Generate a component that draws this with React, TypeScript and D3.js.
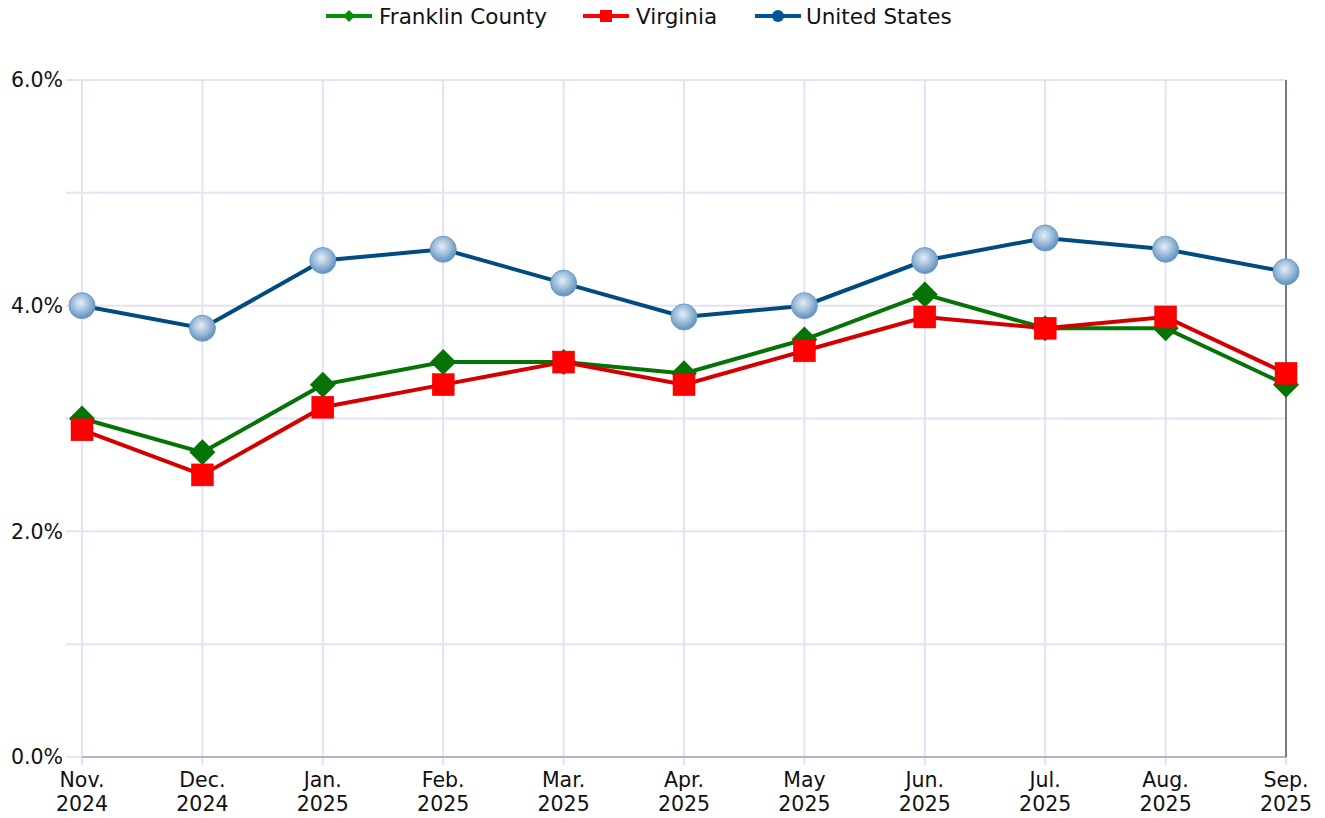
import React from "react";
import * as d3 from "d3";

const months = ["Nov.", "Dec.", "Jan.", "Feb.", "Mar.", "Apr.", "May", "Jun.", "Jul.", "Aug.", "Sep."];
const years = ["2024", "2024", "2025", "2025", "2025", "2025", "2025", "2025", "2025", "2025", "2025"];
const franklin = [3.0, 2.7, 3.3, 3.5, 3.5, 3.4, 3.7, 4.1, 3.8, 3.8, 3.3];
const virginia = [2.9, 2.5, 3.1, 3.3, 3.5, 3.3, 3.6, 3.9, 3.8, 3.9, 3.4];
const unitedStates = [4.0, 3.8, 4.4, 4.5, 4.2, 3.9, 4.0, 4.4, 4.6, 4.5, 4.3];
const yTicks = [0, 1, 2, 3, 4, 5, 6];
const yLabeled = [0, 2, 4, 6];

const W = 1325, H = 818;
const left = 82, right = 1286, top = 80, bottom = 757;
const font = "'DejaVu Sans', Verdana, sans-serif";

export default function App() {
  const x = d3.scalePoint<number>().domain(d3.range(months.length)).range([left, right]);
  const y = d3.scaleLinear().domain([0, 6]).range([bottom, top]);
  const line = d3.line<number>().x((_, i) => x(i)!).y((d) => y(d));

  const diamond = (cx: number, cy: number, r: number) =>
    `M${cx},${cy - r}L${cx + r},${cy}L${cx},${cy + r}L${cx - r},${cy}Z`;

  return (
    <svg width={W} height={H} style={{ position: "absolute", left: 0, top: 0, background: "#fff" }}>
      <defs>
        <radialGradient id="usg" cx="45%" cy="40%" r="60%">
          <stop offset="0%" stopColor="#e4eef8" />
          <stop offset="50%" stopColor="#a2c0dc" />
          <stop offset="100%" stopColor="#5f8fbd" />
        </radialGradient>
      </defs>
      {/* grid */}
      {yTicks.map((t) => (
        <line key={"h" + t} x1={66} x2={right} y1={y(t)} y2={y(t)} stroke="#e3e3f3" strokeWidth={2} />
      ))}
      {months.map((_, i) => (
        <line key={"v" + i} x1={x(i)} x2={x(i)} y1={top} y2={bottom + 8} stroke="#e3e3f3" strokeWidth={2} />
      ))}
      <line x1={left} x2={right} y1={bottom} y2={bottom} stroke="#b4b4c4" strokeWidth={2} />
      <line x1={right} x2={right} y1={top} y2={bottom} stroke="#555566" strokeWidth={1.5} />
      {/* y labels */}
      {yLabeled.map((t) => (
        <text key={"yl" + t} x={63} y={y(t)} dy="0.36em" textAnchor="end" fontFamily={font} fontSize={20.5} fill="#111">
          {t.toFixed(1)}%
        </text>
      ))}
      {/* x labels */}
      {months.map((m, i) => (
        <text key={"xl" + i} x={x(i)} textAnchor="middle" fontFamily={font} fontSize={20.5} fill="#111">
          <tspan x={x(i)} y={787}>{m}</tspan>
          <tspan x={x(i)} y={811}>{years[i]}</tspan>
        </text>
      ))}
      {/* US */}
      <path d={line(unitedStates)!} fill="none" stroke="#004b80" strokeWidth={4} />
      {unitedStates.map((v, i) => (
        <circle key={"us" + i} cx={x(i)} cy={y(v)} r={13} fill="url(#usg)" stroke="#6f9cc6" strokeWidth={1} />
      ))}
      {/* Franklin */}
      <path d={line(franklin)!} fill="none" stroke="#067306" strokeWidth={4} />
      {franklin.map((v, i) => (
        <path key={"fr" + i} d={diamond(x(i)!, y(v), 13)} fill="#067306" />
      ))}
      {/* Virginia */}
      <path d={line(virginia)!} fill="none" stroke="#d40000" strokeWidth={4} />
      {virginia.map((v, i) => (
        <rect key={"va" + i} x={x(i)! - 11} y={y(v) - 11} width={22} height={22} fill="#ff0000" stroke="#e80000" strokeWidth={0.5} />
      ))}
      {/* legend */}
      <g fontFamily={font} fontSize={21.5} fill="#111">
        <line x1={326} x2={372} y1={16} y2={16} stroke="#068f06" strokeWidth={4} />
        <path d={diamond(349, 16, 6)} fill="#068f06" />
        <text x={379} y={16} dy="0.36em">Franklin County</text>
        <line x1={583} x2={629} y1={16} y2={16} stroke="#ff0000" strokeWidth={4} />
        <rect x={600} y={10} width={12} height={12} fill="#ff0000" />
        <text x={636} y={16} dy="0.36em">Virginia</text>
        <line x1={755} x2={801} y1={16} y2={16} stroke="#00559a" strokeWidth={4} />
        <circle cx={778} cy={16} r={6} fill="#00559a" />
        <text x={806} y={16} dy="0.36em">United States</text>
      </g>
    </svg>
  );
}
